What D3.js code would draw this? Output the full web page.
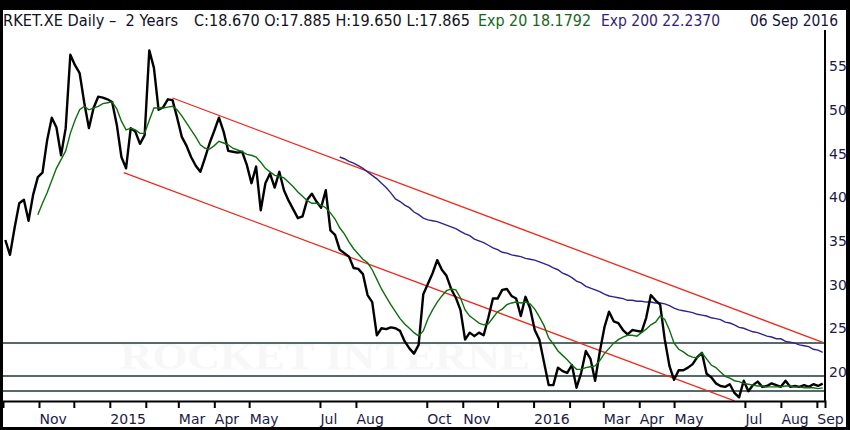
<!DOCTYPE html>
<style>
    body { margin: 0; background: #000; }
    svg { display: block; }
    .hdr { font-family: "DejaVu Sans", sans-serif; font-size: 15px; }
    .lbl { font-family: "DejaVu Sans", sans-serif; font-size: 14px; fill: #1b1b48; }
</style>

<svg width="850" height="430"></svg>
<script src="https://cdn.jsdelivr.net/npm/d3@7"></script>
<script>
    var svg = d3.select("svg"),
        width = +svg.attr("width"),
        height = +svg.attr("height");

    // samples every 4 calendar days, first one on 3 Oct 2014
    var startDate = new Date(2014, 9, 3)
    var closes = [
        35.1, 33.4, 36.5, 39.3, 39.7, 37.3, 40.3, 42.3, 42.8, 46.5,
        49.1, 48.0, 44.8, 47.9, 56.3, 55.1, 54.2, 50.8, 47.9, 50.2,
        51.5, 51.4, 51.2, 50.9, 48.3, 44.6, 43.3, 47.9, 47.5, 46.1,
        47.1, 56.8, 54.8, 50.0, 50.3, 51.2, 51.1, 49.1, 46.9, 45.9,
        44.6, 43.6, 42.9, 44.5, 46.2, 47.6, 49.1, 47.5, 45.3, 45.2,
        45.1, 45.2, 43.7, 41.6, 43.5, 38.5, 41.6, 42.7, 41.1, 42.9,
        40.8, 39.6, 38.6, 37.6, 37.8, 39.7, 40.4, 39.5, 38.8, 40.8,
        36.2, 35.7, 34.0, 33.6, 33.2, 31.9, 31.8, 31.2, 28.8, 28.0,
        24.2, 25.0, 24.9, 25.1, 25.0, 24.7, 23.5, 22.7, 22.1, 23.1,
        28.9, 30.1, 31.3, 32.8, 31.7, 31.0, 29.5, 28.5, 27.1, 23.7,
        24.5, 24.1, 24.5, 24.2, 26.2, 28.4, 28.4, 29.4, 29.5, 28.7,
        28.4, 26.4, 28.6, 27.3, 24.8, 23.7, 21.1, 18.5, 18.5, 20.5,
        20.1, 19.9, 20.8, 18.2, 19.9, 22.4, 21.5, 19.0, 22.3, 25.1,
        26.9, 25.8, 25.6, 24.8, 24.3, 24.8, 24.7, 24.6, 26.2, 28.8,
        28.2, 27.7, 23.7, 20.7, 19.1, 20.2, 20.2, 20.5, 20.9, 21.7,
        22.2, 19.8, 19.4, 18.7, 18.4, 18.3, 18.6, 17.6, 17.1, 19.0,
        17.8, 18.5, 18.9, 18.3, 18.4, 18.7, 18.5, 18.3, 19.0, 18.3,
        18.4, 18.3, 18.5, 18.3, 18.6, 18.4, 18.67
    ]

    // Exp 20 starts at sample 7, Exp 200 at sample 72
    var ema20Start = 7
    var ema20 = [
        38.0, 39.3, 40.5, 41.9, 43.3, 44.3, 45.3, 47.3, 48.8, 50.0,
        50.4, 50.0, 50.2, 50.4, 50.7, 50.8, 50.9, 50.1, 48.7, 47.7,
        47.9, 47.7, 47.3, 47.3, 48.8, 50.2, 50.2, 50.2, 50.3, 50.4,
        50.0, 49.3, 48.5, 47.7, 46.9, 46.0, 45.6, 45.5, 45.9, 46.4,
        46.2, 46.0, 45.6, 45.4, 45.2, 44.9, 44.8, 44.6, 44.0, 43.3,
        42.9, 42.5, 42.4, 42.2, 41.7, 41.2, 40.6, 40.1, 39.6, 39.3,
        39.3, 39.1, 38.8, 38.2, 37.5, 36.5, 35.8, 34.9, 34.1, 33.5,
        32.9, 32.5, 31.7, 30.6, 29.5, 28.6, 27.7, 26.9, 26.1, 25.5,
        25.0, 24.5, 24.1, 24.7, 26.1, 27.1, 28.0, 28.7, 29.3, 29.5,
        29.4, 28.5, 27.1, 26.4, 26.0, 25.6, 25.4, 25.5, 26.2, 26.9,
        27.2, 27.7, 27.9, 28.0, 27.9, 28.0, 27.8, 27.2, 26.3, 25.3,
        23.9, 23.2, 22.4, 21.9, 21.4, 20.8, 20.3, 20.3, 20.5, 20.6,
        20.7, 21.3, 22.1, 22.7, 23.3, 23.7, 24.0, 24.2, 24.2, 24.1,
        24.5, 24.9, 25.4, 25.7, 26.4, 26.0, 24.8, 23.3, 22.6, 22.3,
        21.9, 21.7, 21.6, 22.2, 21.5, 20.8, 20.5, 20.0, 19.5, 19.3,
        19.0, 18.9, 18.7, 18.6, 18.5, 18.4, 18.4, 18.3, 18.3, 18.3,
        18.3, 18.4, 18.4, 18.3, 18.3, 18.2, 18.2, 18.2, 18.1, 18.18
    ]
    var ema200Start = 72
    var ema200 = [
        44.6, 44.4, 44.1, 43.9, 43.6, 43.3, 42.9, 42.5, 42.1, 41.6,
        41.1, 40.5, 39.8, 39.5, 39.1, 38.8, 38.3, 38.0, 37.6, 37.4,
        37.3, 37.2, 37.0, 36.8, 36.6, 36.4, 36.1, 35.8, 35.6, 35.2,
        35.0, 34.8, 34.5, 34.2, 34.0, 33.7, 33.6, 33.4, 33.3, 33.2,
        33.0, 32.9, 32.8, 32.6, 32.4, 32.2, 31.9, 31.7, 31.3, 31.1,
        30.8, 30.4, 30.2, 29.8, 29.6, 29.4, 29.2, 28.9, 28.7, 28.6,
        28.5, 28.4, 28.2, 28.2, 28.1, 28.1, 28.0, 28.0, 27.9, 27.9,
        27.8, 27.6, 27.3, 27.1, 27.0, 26.9, 26.8, 26.6, 26.5, 26.4,
        26.2, 26.1, 26.0, 25.7, 25.6, 25.4, 25.1, 25.0, 24.8, 24.6,
        24.5, 24.3, 24.1, 24.0, 23.8, 23.8, 23.5, 23.4, 23.3, 23.1,
        23.0, 22.9, 22.6, 22.5, 22.24
    ]

    var upperTrend = [["2015-02-24", 51.35], ["2016-09-06", 23.4]]
    var lowerTrend = [["2015-01-13", 42.8], ["2016-06-22", 16.7]]
    var supportLevels = [23.32, 19.54, 17.83]

    var priceTicks = [20, 25, 30, 35, 40, 45, 50, 55]
    var monthTicks = ["2014-11-01", "2014-12-01", "2015-01-01", "2015-02-01", "2015-03-01", "2015-04-01",
        "2015-05-01", "2015-07-01", "2015-08-01", "2015-10-01", "2015-11-01", "2015-12-01",
        "2016-01-01", "2016-02-01", "2016-03-01", "2016-04-01", "2016-05-01", "2016-07-01",
        "2016-08-01", "2016-09-01"]
    var monthLabels = ["Nov", "", "2015", "", "Mar", "Apr", "May", "Jul", "Aug", "Oct", "Nov", "",
        "2016", "", "Mar", "Apr", "May", "Jul", "Aug", "Sep"]

    var parse = d3.timeParse("%Y-%m-%d")
    var dates = closes.map((c, i) => d3.timeDay.offset(startDate, 4 * i))

    var x = d3.scaleTime()
        .domain([new Date(2014, 9, 1), new Date(2016, 8, 8)])
        .range([3, 825])
    var y = d3.scaleLinear()
        .domain([16.68, 59.13])
        .range([401, 30])

    // black frame + white page
    svg.append("rect").attr("width", width).attr("height", height).attr("fill", "#000")
    svg.append("rect").attr("x", 3).attr("y", 10).attr("width", 843).attr("height", 417).attr("fill", "#fff")

    // faint watermark
    svg.append("text")
        .attr("x", 120).attr("y", 369)
        .attr("textLength", 440).attr("lengthAdjust", "spacingAndGlyphs")
        .style("font-family", "'Liberation Serif', serif")
        .style("font-size", "38px")
        .style("font-weight", "bold")
        .attr("fill", "#f7f7f7")
        .text("ROCKET INTERNET")

    svg.append("clipPath").attr("id", "plot")
        .append("rect").attr("x", 3).attr("y", 30).attr("width", 822).attr("height", 371)

    var plot = svg.append("g").attr("clip-path", "url(#plot)")

    plot.selectAll(".support")
        .data(supportLevels)
        .enter().append("line")
        .attr("x1", 3).attr("x2", 825)
        .attr("y1", d => y(d)).attr("y2", d => y(d))
        .attr("stroke", "#1e3838")
        .attr("stroke-width", 1.5)

    var trendLine = d3.line()
        .x(d => x(parse(d[0])))
        .y(d => y(d[1]))
    plot.selectAll(".trend")
        .data([upperTrend, lowerTrend])
        .enter().append("path")
        .attr("d", trendLine)
        .attr("fill", "none")
        .attr("stroke", "#ec2a1c")
        .attr("stroke-width", 1.3)

    function seriesLine(offset) {
        return d3.line()
            .x((d, i) => x(dates[i + offset]))
            .y(d => y(d))
    }

    plot.append("path")
        .attr("d", seriesLine(ema200Start)(ema200))
        .attr("fill", "none")
        .attr("stroke", "#32228a")
        .attr("stroke-width", 1.4)

    plot.append("path")
        .attr("d", seriesLine(0)(closes))
        .attr("fill", "none")
        .attr("stroke", "#000")
        .attr("stroke-width", 2.4)
        .attr("stroke-linejoin", "round")

    plot.append("path")
        .attr("d", seriesLine(ema20Start)(ema20))
        .attr("fill", "none")
        .attr("stroke", "#0d6e0d")
        .attr("stroke-width", 1.4)

    // right price axis
    svg.append("line")
        .attr("x1", 825).attr("x2", 825).attr("y1", 30).attr("y2", 401)
        .attr("stroke", "#000").attr("stroke-width", 2)
    svg.selectAll(".plbl")
        .data(priceTicks)
        .enter().append("text")
        .attr("class", "lbl")
        .attr("x", 829)
        .attr("y", d => y(d))
        .attr("dy", "0.36em")
        .text(d => d)

    // bottom time axis
    var xAxis = d3.axisBottom(x)
        .tickValues(monthTicks.map(parse))
        .tickFormat((d, i) => monthLabels[i])
        .tickSizeOuter(0)
        .tickSize(7)
    var gx = svg.append("g")
        .attr("transform", "translate(0,401)")
        .call(xAxis)
    gx.select(".domain").attr("stroke", "#000").attr("stroke-width", 2)
    gx.selectAll(".tick line").attr("stroke", "#000").attr("stroke-width", 2)
    gx.selectAll(".tick text")
        .attr("class", "lbl")
        .attr("text-anchor", "start")
        .attr("x", 0)
        .attr("y", 13)
        .attr("fill", null)

    // header
    var header = [
        { t: "RKET.XE Daily \u2013  2 Years", x: 3, w: 175, c: "#111122" },
        { t: "C:18.670 O:17.885 H:19.650 L:17.865", x: 194, w: 276, c: "#111122" },
        { t: "Exp 20 18.1792", x: 478, w: 113, c: "#17661a" },
        { t: "Exp 200 22.2370", x: 601, w: 119, c: "#341c78" },
        { t: "06 Sep 2016", x: 750, w: 88, c: "#151540" }
    ]
    svg.selectAll(".hdr")
        .data(header)
        .enter().append("text")
        .attr("class", "hdr")
        .attr("x", d => d.x)
        .attr("y", 26)
        .attr("textLength", d => d.w)
        .attr("lengthAdjust", "spacingAndGlyphs")
        .attr("fill", d => d.c)
        .attr("xml:space", "preserve")
        .text(d => d.t)
</script>
